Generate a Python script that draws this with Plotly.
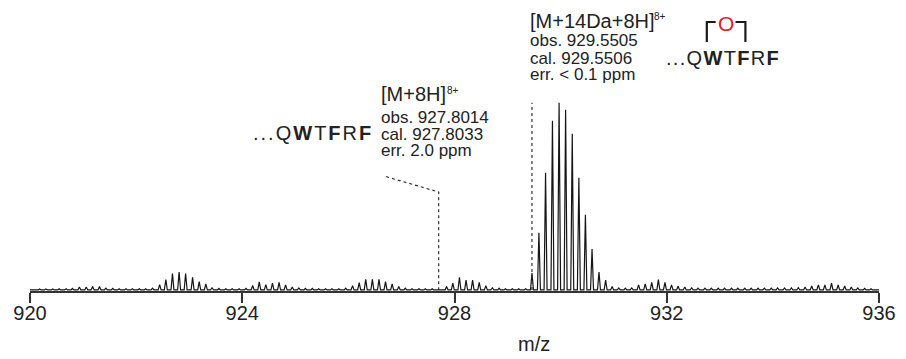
import plotly.graph_objects as go

# ---------------- data ----------------
# isotope clusters: m/z and relative intensity (%)
cluster_a_mz = [922.443, 922.560, 922.685, 922.810, 922.933, 923.064, 923.189, 923.314, 923.431]
cluster_a_int = [2.9, 5.6, 8.8, 9.6, 8.8, 6.7, 4.5, 3.2, 1.2]

cluster_b_mz = [924.196, 924.321, 924.444, 924.569, 924.694, 924.817, 924.942, 925.067, 925.190]
cluster_b_int = [2.4, 4.3, 2.9, 3.6, 4.0, 2.7, 1.6, 1.1, 0.8]

cluster_c_mz = [926.079, 926.204, 926.327, 926.452, 926.577, 926.700, 926.825, 926.950, 927.073]
cluster_c_int = [2.3, 3.9, 5.7, 5.7, 5.7, 4.4, 3.2, 1.8, 0.9]

cluster_d_mz = [927.851, 927.968, 928.093, 928.218, 928.341, 928.466, 928.591, 928.714, 928.840]
cluster_d_int = [1.9, 3.6, 6.8, 5.3, 5.3, 4.1, 2.3, 1.2, 0.9]

main_mz = [929.460, 929.591, 929.716, 929.846, 929.971, 930.094, 930.219,
           930.344, 930.467, 930.592, 930.723, 930.848, 930.971, 931.096]
main_int = [9.1, 30.5, 62.6, 90.4, 100.0, 96.3, 83.4, 59.9, 40.1, 21.9, 9.6, 5.3, 1.8, 1.1]

cluster_e_mz = [931.469, 931.594, 931.717, 931.842, 931.966, 932.090, 932.214, 932.340]
cluster_e_int = [2.7, 3.2, 4.1, 5.5, 4.1, 2.7, 2.0, 1.6]

cluster_f_mz = [934.607, 934.732, 934.857, 934.980, 935.105, 935.230, 935.353, 935.478]
cluster_f_int = [1.6, 2.1, 2.7, 2.7, 3.6, 2.7, 2.1, 1.6]

minor_mz = [920.18, 920.30, 920.43, 920.55, 920.68, 920.80, 920.93, 921.06, 921.18, 921.31,
            921.43, 921.56, 921.68, 921.81, 921.93, 922.06, 922.18, 922.31,
            923.56, 923.69, 923.81, 923.94, 924.07,
            925.32, 925.44, 925.57, 925.69, 925.82, 925.95,
            927.20, 927.33, 927.45, 927.58,
            928.96, 929.09, 929.21, 929.34,
            931.22, 931.34,
            932.47, 932.59, 932.72, 932.84, 932.97, 933.09, 933.22, 933.34, 933.47,
            933.59, 933.72, 933.84, 933.97, 934.09, 934.22, 934.35, 934.48,
            935.60, 935.73, 935.85]
minor_int = [0.5, 0.5, 0.5, 0.6, 0.6, 0.8, 1.6, 1.6, 1.8, 1.8,
             1.0, 0.8, 0.6, 0.6, 0.6, 0.6, 0.6, 1.0,
             0.8, 0.6, 0.6, 0.6, 0.8,
             0.8, 0.6, 0.6, 0.6, 0.6, 0.9,
             0.6, 0.6, 0.6, 0.6,
             0.6, 0.6, 0.6, 0.6,
             1.0, 1.1,
             1.2, 1.0, 1.0, 1.0, 0.9, 0.9, 0.9, 0.9, 0.9,
             0.9, 0.9, 1.0, 1.0, 1.1, 1.1, 1.2, 1.3,
             1.1, 0.8, 0.6]

tick_vals = [920, 924, 928, 932, 936]
tick_text = ["920", "924", "928", "932", "936"]

# marker position for the [M+14Da+8H] assignment (m/z)
mark_m14 = main_mz[0]

# ---------------- build the stick/profile line ----------------
peaks = []
for mzs, ints in [(cluster_a_mz, cluster_a_int), (cluster_b_mz, cluster_b_int),
                  (cluster_c_mz, cluster_c_int), (cluster_d_mz, cluster_d_int),
                  (main_mz, main_int), (cluster_e_mz, cluster_e_int),
                  (cluster_f_mz, cluster_f_int), (minor_mz, minor_int)]:
    peaks.extend(zip(mzs, ints))
peaks.sort()

HW = 0.028
xs, ys = [920.0], [0.0]
for m, h in peaks:
    xs += [m - HW, m, m + HW]
    ys += [0.0, h, 0.0]
xs.append(936.0)
ys.append(0.0)

FONT = "Liberation Sans, Arial, sans-serif"
TXT = "#222222"

W, H = 906, 359
ML, MR, MT, MB = 30, 18, 10, 68
PW, PH = W - ML - MR, H - MT - MB


def px(x):
    return (x - ML) / PW


def py(y):
    return (H - MB - y) / PH


fig = go.Figure()
fig.add_trace(go.Scatter(x=xs, y=ys, mode="lines",
                         line=dict(color="#151515", width=1.2),
                         hoverinfo="skip", showlegend=False))


def ann(text, x, y, size, color=TXT, xanchor="left"):
    return dict(text=text, xref="paper", yref="paper", x=px(x), y=py(y),
                xanchor=xanchor, yanchor="middle", showarrow=False,
                borderpad=0, borderwidth=0,
                font=dict(family=FONT, size=size, color=color))


annotations = [
    # [M+14Da+8H]8+
    ann("[M+14Da+8H]", 535, 20.5, 20),
    ann("8+", 661, 16.5, 10),
    ann("obs. 929.5505", 535, 40.8, 17),
    ann("cal. 929.5506", 535, 58.0, 17),
    ann("err. &lt; 0.1 ppm", 535, 74.2, 17),
    # [M+8H]8+
    ann("[M+8H]", 385, 94.0, 20),
    ann("8+", 451, 90.6, 10),
    ann("obs. 927.8014", 385, 117.4, 17),
    ann("cal. 927.8033", 385, 134.0, 17),
    ann("err. 2.0 ppm", 385, 150.0, 17),
    # sequences
    ann('<span style="letter-spacing:2px">...Q<b>W</b>T<b>F</b>R<b>F</b></span>', 255, 133.0, 20),
    ann('<span style="letter-spacing:1.3px">...Q<b>W</b>T<b>F</b>R<b>F</b></span>', 673, 58.0, 20),
    ann("O", 733, 24.0, 21, color="#e3202a", xanchor="center"),
    # axis title
    ann("m/z", 539, 344.0, 20, xanchor="center"),
]


def path_px(points):
    segs = []
    for cmd, x, y in points:
        segs.append(f"{cmd}{px(x):.5f},{py(y):.5f}")
    return " ".join(segs)


shapes = [
    # dashed marker for [M+14Da+8H]
    dict(type="line", xref="x", yref="y", x0=mark_m14, x1=mark_m14, y0=0, y1=100,
         line=dict(color="#333333", width=1.2, dash="3px,3px")),
    # dashed leader for [M+8H]
    dict(type="path", xref="paper", yref="paper",
         path=path_px([("M", 390, 176.7), ("L", 443, 192), ("L", 443, 290)]),
         line=dict(color="#333333", width=1.2, dash="3px,3px")),
    # bridge over the sequence
    dict(type="path", xref="paper", yref="paper",
         path=path_px([("M", 714, 42), ("L", 714, 22), ("L", 723, 22),
                       ("M", 743, 22), ("L", 753, 22), ("L", 753, 42)]),
         line=dict(color="#1a1a1a", width=2.2)),
]

fig.update_layout(
    width=W, height=H,
    margin=dict(l=ML, r=MR, t=MT, b=MB, pad=0),
    paper_bgcolor="white", plot_bgcolor="white",
    font=dict(family=FONT, color=TXT),
    xaxis=dict(range=[920, 936], tickvals=tick_vals, ticktext=tick_text,
               ticks="outside", ticklen=10, tickwidth=1.5, tickcolor="#333333",
               ticklabelstandoff=-7,
               showline=True, linecolor="#333333", linewidth=1.5,
               showgrid=False, zeroline=False,
               tickfont=dict(family=FONT, size=20, color=TXT)),
    yaxis=dict(range=[-0.55, 149.5], visible=False, showgrid=False, zeroline=False),
    annotations=annotations,
    shapes=shapes,
    showlegend=False,
)

fig.write_html("out.html")
